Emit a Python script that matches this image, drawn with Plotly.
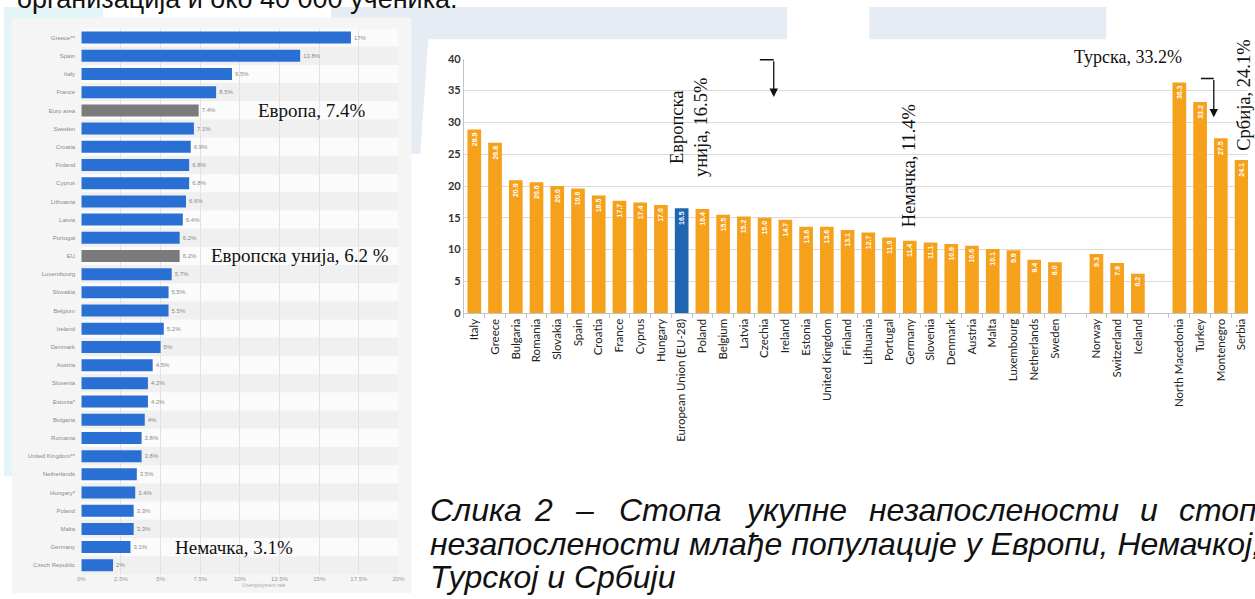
import plotly.graph_objects as go

W, H = 1255, 599

# ---------------- Left chart: unemployment rate, horizontal bars ----------------
left_countries = [
    "Greece**", "Spain", "Italy", "France", "Euro area", "Sweden", "Croatia",
    "Finland", "Cyprus", "Lithuania", "Latvia", "Portugal", "EU", "Luxembourg",
    "Slovakia", "Belgium", "Ireland", "Denmark", "Austria", "Slovenia", "Estonia*",
    "Bulgaria", "Romania", "United Kingdom**", "Netherlands", "Hungary*", "Poland",
    "Malta", "Germany", "Czech Republic",
]
left_values = [
    17, 13.8, 9.5, 8.5, 7.4, 7.1, 6.9, 6.8, 6.8, 6.6, 6.4, 6.2, 6.2, 5.7, 5.5,
    5.5, 5.2, 5, 4.5, 4.2, 4.2, 4, 3.8, 3.8, 3.5, 3.4, 3.3, 3.3, 3.1, 2,
]
left_aggregates = ["Euro area", "EU"]
left_tickvals = [0, 2.5, 5, 7.5, 10, 12.5, 15, 17.5, 20]
left_ticktext = ["0%", "2.5%", "5%", "7.5%", "10%", "12.5%", "15%", "17.5%", "20%"]

# ---------------- Right chart: youth unemployment, vertical bars ----------------
eu_countries = [
    "Italy", "Greece", "Bulgaria", "Romania", "Slovakia", "Spain", "Croatia",
    "France", "Cyprus", "Hungary", "European Union (EU-28)", "Poland", "Belgium",
    "Latvia", "Czechia", "Ireland", "Estonia", "United Kingdom", "Finland",
    "Lithuania", "Portugal", "Germany", "Slovenia", "Denmark", "Austria", "Malta",
    "Luxembourg", "Netherlands", "Sweden",
]
eu_values = [
    28.9, 26.8, 20.9, 20.6, 20.0, 19.6, 18.5, 17.7, 17.4, 17.0, 16.5, 16.4, 15.5,
    15.2, 15.0, 14.7, 13.6, 13.6, 13.1, 12.7, 11.9, 11.4, 11.1, 10.9, 10.6, 10.1,
    9.9, 8.4, 8.0,
]
efta_countries = ["Norway", "Switzerland", "Iceland"]
efta_values = [9.3, 7.9, 6.2]
candidate_countries = ["North Macedonia", "Turkey", "Montenegro", "Serbia"]
candidate_values = [36.3, 33.2, 27.5, 24.1]
eu_aggregate = "European Union (EU-28)"
right_yticks = [0, 5, 10, 15, 20, 25, 30, 35, 40]

ORANGE = "#f6a11c"
EU_BLUE = "#1f66b0"
BAR_BLUE = "#2a6fd4"
GREY_BAR = "#7b7b7b"


def fx(px):
    return px / W


def fy(py):
    return 1 - py / H


# slot positions for the right chart: one empty slot between country groups
right_names, right_vals, right_pos = [], [], []
slot = 0
for gi, (names, vals) in enumerate([(eu_countries, eu_values),
                                     (efta_countries, efta_values),
                                     (candidate_countries, candidate_values)]):
    if gi > 0:
        slot += 1
    for n, v in zip(names, vals):
        right_names.append(n)
        right_vals.append(v)
        right_pos.append(slot)
        slot += 1

fig = go.Figure()

fig.add_trace(go.Bar(
    x=left_values, y=left_countries, orientation="h",
    marker=dict(color=[GREY_BAR if c in left_aggregates else BAR_BLUE for c in left_countries],
                line=dict(width=0)),
    width=0.66,
    text=[f"{v:g}%" for v in left_values], textposition="outside",
    textfont=dict(size=6, color="#8a8a8a", family="Liberation Sans"),
    constraintext="none", cliponaxis=False,
    xaxis="x", yaxis="y", showlegend=False, hoverinfo="skip",
))

fig.add_trace(go.Bar(
    x=right_pos, y=right_vals,
    marker=dict(color=[EU_BLUE if n == eu_aggregate else ORANGE for n in right_names],
                line=dict(width=0)),
    width=0.66,
    text=[f"{v:.1f}" for v in right_vals], textposition="inside",
    insidetextanchor="end", textangle=-90,
    textfont=dict(size=7, color="white", family="Liberation Sans", weight="bold"),
    constraintext="none", cliponaxis=False,
    xaxis="x2", yaxis="y2", showlegend=False, hoverinfo="skip",
))

shapes = []
# light page decorations
LIGHT_BLUE = "#e5ecf3"
LIGHT_CYAN = "#e3f5f8"
shapes += [
    dict(type="rect", xref="paper", yref="paper", x0=fx(0), x1=fx(100), y0=fy(0), y1=fy(12),
         fillcolor=LIGHT_CYAN, line=dict(width=0), layer="below"),
    dict(type="rect", xref="paper", yref="paper", x0=fx(0), x1=fx(8), y0=fy(0), y1=fy(480),
         fillcolor=LIGHT_CYAN, line=dict(width=0), layer="below"),
    dict(type="rect", xref="paper", yref="paper", x0=fx(330), x1=fx(790), y0=fy(0), y1=fy(33),
         fillcolor=LIGHT_BLUE, line=dict(width=0), layer="below"),
    dict(type="rect", xref="paper", yref="paper", x0=fx(873), x1=fx(1112), y0=fy(0), y1=fy(33),
         fillcolor=LIGHT_BLUE, line=dict(width=0), layer="below"),
    dict(type="path", xref="paper", yref="paper",
         path=f"M {fx(410)} {fy(11)} L {fx(430)} {fy(11)} L {fx(428)} {fy(33)} L {fx(420)} {fy(150)} L {fx(410)} {fy(150)} Z",
         fillcolor=LIGHT_BLUE, line=dict(width=0), layer="below"),
    # left chart panel
    dict(type="rect", xref="paper", yref="paper", x0=fx(8), x1=fx(411), y0=fy(11), y1=fy(599),
         fillcolor="#f5f5f5", line=dict(width=0), layer="below"),
]
# alternating row bands of the left chart
for i in range(len(left_countries)):
    shapes.append(dict(type="rect", xref="x", yref="y", x0=0, x1=20, y0=i - 0.5, y1=i + 0.5,
                       fillcolor="#fbfbfb" if i % 2 == 0 else "#f0f0f0",
                       line=dict(width=0), layer="below"))

# bracket arrows on the right chart
shapes += [
    dict(type="line", xref="x2", yref="y2", x0=13.77, x1=14.44, y0=39.85, y1=39.85,
         line=dict(color="#111", width=1.4)),
    dict(type="line", xref="x2", yref="y2", x0=35.04, x1=35.66, y0=36.9, y1=36.9,
         line=dict(color="#111", width=1.4)),
]

SERIF = "Liberation Serif"
annotations = [
    # left chart labels
    dict(x=11.0, y="Euro area", xref="x", yref="y", text="Европа, 7.4%", showarrow=False,
         xanchor="left", yanchor="middle", font=dict(family=SERIF, size=19, color="#111")),
    dict(x=8.05, y="EU", xref="x", yref="y", text="Европска унија, 6.2 %", showarrow=False,
         xanchor="left", yanchor="middle", font=dict(family=SERIF, size=19, color="#111")),
    dict(x=5.75, y="Germany", xref="x", yref="y", text="Немачка, 3.1%", showarrow=False,
         xanchor="left", yanchor="middle", font=dict(family=SERIF, size=19, color="#111")),
    dict(x=fx(238), y=fy(596), xref="paper", yref="paper", text="Unemployment rate",
         showarrow=False, font=dict(family="Liberation Sans", size=5, color="#aaa")),
    # right chart labels
    dict(x=10.33, y=29.2, xref="x2", yref="y2", text="Европска<br>унија, 16.5%", showarrow=False,
         textangle=-90, font=dict(family=SERIF, size=18.5, color="#111")),
    dict(x=20.94, y=23.2, xref="x2", yref="y2", text="Немачка, 11.4%", showarrow=False,
         textangle=-90, font=dict(family=SERIF, size=18.5, color="#111")),
    dict(x=31.5, y=40, yshift=2, xref="x2", yref="y2", text="Турска, 33.2%", showarrow=False,
         font=dict(family=SERIF, size=18, color="#111")),
    dict(x=37.1, y=34.3, xref="x2", yref="y2", text="Србија, 24.1%", showarrow=False,
         textangle=-90, font=dict(family=SERIF, size=18.5, color="#111")),
    dict(x=14.44, y=34.0, ax=14.44, ay=39.85, xref="x2", yref="y2", axref="x2", ayref="y2",
         text="", showarrow=True, arrowhead=2, arrowsize=1.3, arrowwidth=1.3, arrowcolor="#111"),
    dict(x=35.66, y=30.8, ax=35.66, ay=36.9, xref="x2", yref="y2", axref="x2", ayref="y2",
         text="", showarrow=True, arrowhead=2, arrowsize=1.3, arrowwidth=1.3, arrowcolor="#111"),
    # running text above the charts
    dict(x=fx(460), y=fy(-8), xref="paper", yref="paper", text="организација и око 40 000 ученика.",
         showarrow=False, xanchor="right", yanchor="middle",
         font=dict(family="Liberation Sans", size=27, color="#111")),
]

# figure caption (first line justified word by word)
CAP_FONT = dict(family="Liberation Sans", size=32, color="#111", style="italic")
line1_words = ["Слика", "2", "–", "Стопа", "укупне", "незапослености", "и", "стопе"]
line1_left = [428, 533, 574, 618, 746, 871, 1144, 1183]
for word, left in zip(line1_words, line1_left):
    annotations.append(dict(x=fx(left), y=fy(514), xref="paper", yref="paper", text=word,
                            showarrow=False, xanchor="left", yanchor="middle", font=CAP_FONT))
annotations.append(dict(x=fx(428), y=fy(549), xref="paper", yref="paper",
                        text="незапослености млађе популације у Европи, Немачкој,",
                        showarrow=False, xanchor="left", yanchor="middle", font=CAP_FONT))
annotations.append(dict(x=fx(428), y=fy(583), xref="paper", yref="paper",
                        text="Турској и Србији",
                        showarrow=False, xanchor="left", yanchor="middle", font=CAP_FONT))

fig.update_layout(
    width=W, height=H,
    margin=dict(l=0, r=0, t=0, b=0, pad=0),
    paper_bgcolor="white", plot_bgcolor="rgba(0,0,0,0)",
    bargap=0.3,
    shapes=shapes, annotations=annotations,
    xaxis=dict(domain=[fx(78), fx(398)], range=[0, 20], tickvals=left_tickvals,
               ticktext=left_ticktext, showgrid=True, gridcolor="#e2e2e2", gridwidth=1,
               zeroline=False, showline=False, ticks="", anchor="y",
               tickfont=dict(family="Liberation Sans", size=6, color="#9a9a9a")),
    yaxis=dict(domain=[fy(580), fy(22)], range=[len(left_countries) - 0.5, -0.5],
               type="category", showgrid=False, zeroline=False, ticks="outside", ticklen=4,
               tickcolor="rgba(0,0,0,0)", anchor="x",
               tickfont=dict(family="Liberation Sans", size=6, color="#8a8a8a")),
    xaxis2=dict(domain=[fx(464), 1.0], range=[-0.5, 37.31], anchor="y2",
                tickvals=right_pos, ticktext=right_names, tickangle=-90, ticks="",
                showgrid=False, zeroline=False, showline=True, linecolor="#c4c4c4", linewidth=1,
                minor=dict(ticks="outside", ticklen=4, tick0=0.5, dtick=1, tickcolor="#c4c4c4",
                           showgrid=False),
                tickfont=dict(family="Lato", size=11.5, color="#222")),
    yaxis2=dict(domain=[fy(313), fy(53)], range=[0, 40], anchor="x2", tickvals=right_yticks,
                showgrid=True, gridcolor="#dadada", gridwidth=1, zeroline=False,
                showline=True, linecolor="#c4c4c4", linewidth=1, ticks="",
                tickfont=dict(family="Lato", size=11, color="#333", weight="bold")),
)

fig.write_html("out.html")
